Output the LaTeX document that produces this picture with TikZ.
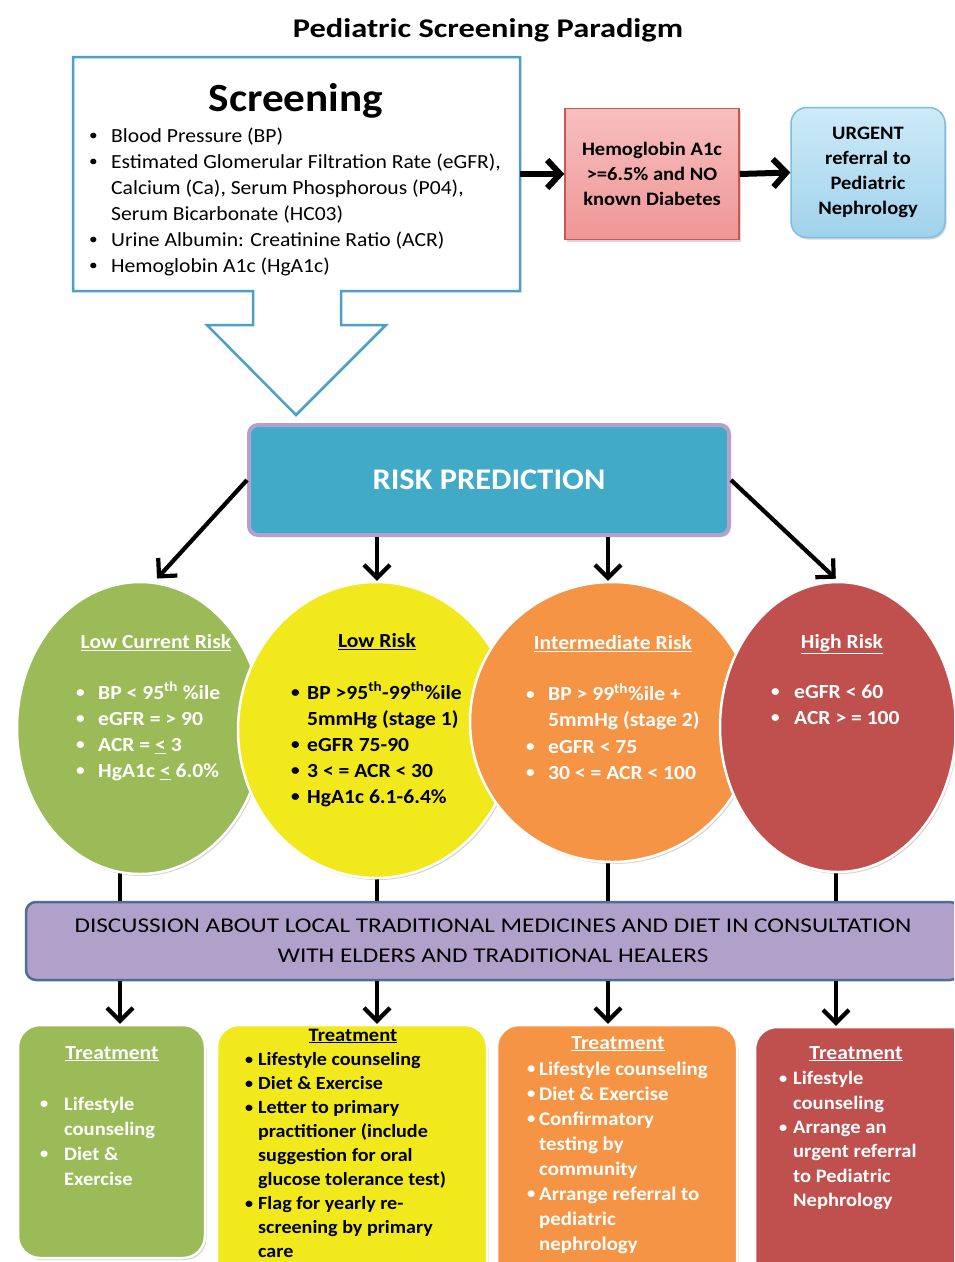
\documentclass[tikz,border=0pt]{standalone}
\usepackage{fontspec}
\usepackage{graphicx}
\setmainfont{Carlito}[FakeStretch=1.08]
\newfontfamily\wideA{Carlito}[FakeStretch=1.2]
\usetikzlibrary{arrows.meta,shadows,shapes.geometric,calc}

\definecolor{scrB}{RGB}{74,160,198}
\definecolor{hbTop}{RGB}{248,190,190}
\definecolor{hbBot}{RGB}{238,150,150}
\definecolor{hbB}{RGB}{205,85,80}
\definecolor{ubTop}{RGB}{205,234,247}
\definecolor{ubBot}{RGB}{160,210,236}
\definecolor{ubB}{RGB}{125,190,222}
\definecolor{riskF}{RGB}{65,170,198}
\definecolor{riskB}{RGB}{180,160,205}
\definecolor{cGreen}{RGB}{155,187,89}
\definecolor{cYellow}{RGB}{241,233,28}
\definecolor{cOrange}{RGB}{245,148,68}
\definecolor{cRed}{RGB}{192,80,77}
\definecolor{barF}{RGB}{177,160,201}
\definecolor{barB}{RGB}{80,108,150}

\newcommand\fs[2]{\fontsize{#1}{#2}\selectfont}
\newcommand\bul[1]{\makebox[#1][l]{\raisebox{0.08em}{\scalebox{0.8}{\textbullet}}}}
\newcommand\ind[1]{\hspace*{#1}}

\begin{document}
\begin{tikzpicture}[x=1pt,y=-1pt,
  lst/.style={inner sep=0pt, anchor=north west, align=left},
  hd/.style={inner sep=0pt, anchor=base, font=\fs{20}{24}\bfseries},
  arr/.style={line width=4.2pt, -{Straight Barb[length=13pt,width=26pt]}},
  bigarr/.style={line width=6pt, -{Straight Barb[length=13pt,width=28pt]}},
  vline/.style={line width=4.2pt},
  bubble/.style={ellipse, draw=white, line width=2.5pt, inner sep=0pt,
    drop shadow={opacity=0.35, shadow xshift=1.5pt, shadow yshift=-2pt}},
  tbox/.style={rectangle, rounded corners=22pt, draw=white, line width=2.5pt, inner sep=0pt,
    drop shadow={opacity=0.35, shadow xshift=1.5pt, shadow yshift=-2pt}},
]
\useasboundingbox (0,0) rectangle (954,1262);
\clip (0,0) rectangle (954,1262);
\fill[white] (0,0) rectangle (954,1262);

% Title
\node[inner sep=0pt, font=\wideA\fs{27}{30}\bfseries] (title) at (488,30) {Pediatric Screening Paradigm};

% Screening box with block arrow
\draw[scrB, line width=2.5pt, fill=white, line join=miter]
  (73,57) -- (520,57) -- (520,291) -- (341,291) -- (341,325) -- (386,325)
  -- (296,415) -- (207,325) -- (253,325) -- (253,291) -- (73,291) -- cycle;
\node[minimum width=447pt, minimum height=234pt, inner sep=0pt] (scr) at (296.5,174) {};
\node[inner sep=0pt, anchor=base, font=\fs{40}{42}\bfseries] (scrT) at (296,111) {Screening};
\node[lst, font=\fs{20}{26}] (scrL) at (89,124) {\strut\bul{22pt}Blood Pressure (BP)\\
 \bul{22pt}Estimated Glomerular Filtration Rate (eGFR),\\
 \ind{22pt}Calcium (Ca), Serum Phosphorous (P04),\\
 \ind{22pt}Serum Bicarbonate (HC03)\\
 \bul{22pt}Urine Albumin: Creatinine Ratio (ACR)\\
 \bul{22pt}Hemoglobin A1c (HgA1c)};

% HbA1c box and urgent box
\node[rectangle, minimum width=174pt, minimum height=131pt, inner sep=0pt,
  top color=hbTop, bottom color=hbBot, draw=hbB, line width=1.5pt,
  drop shadow={opacity=0.3, shadow xshift=1.5pt, shadow yshift=-2pt},
  align=center, font=\fs{19}{25}\bfseries] (hb) at (652,174)
  {Hemoglobin A1c\\ >=6.5\% and NO\\ known Diabetes};
\node[rectangle, rounded corners=16pt, minimum width=154pt, minimum height=130pt, inner sep=0pt,
  top color=ubTop, bottom color=ubBot, draw=ubB, line width=1.5pt,
  drop shadow={opacity=0.3, shadow xshift=1.5pt, shadow yshift=-2pt},
  align=center, font=\fs{19}{25}\bfseries] (ub) at (868,172.5)
  {URGENT\\ referral to\\ Pediatric\\ Nephrology};

\draw[bigarr] (scr.east) -- (hb.west);
\draw[bigarr] (hb.east) -- (ub.west);

% Risk prediction
\node[rectangle, rounded corners=9pt, minimum width=480pt, minimum height=110pt, inner sep=0pt,
  fill=riskF, draw=riskB, line width=4pt,
  drop shadow={opacity=0.3, shadow xshift=1.5pt, shadow yshift=-2pt},
  text=white, font=\fs{30}{32}\bfseries] (rp) at (489,480) {RISK PREDICTION};

% column x positions
\coordinate (x1) at (120,0);
\coordinate (x2) at (377,0);
\coordinate (x3) at (608,0);
\coordinate (x4) at (836,0);

% discussion bar
\node[rectangle, rounded corners=10pt, minimum width=934pt, minimum height=78pt, inner sep=0pt,
  fill=barF, draw=barB, line width=2.5pt, align=center, font=\wideA\fs{21}{30}] (bar) at (493,941)
  {DISCUSSION ABOUT LOCAL TRADITIONAL MEDICINES AND DIET IN CONSULTATION\\ WITH ELDERS AND TRADITIONAL HEALERS};

% lines from circles to bar (behind circles)
\coordinate (gCc) at (140,728);
\coordinate (yCc) at (376,730);
\coordinate (oCc) at (612,722);
\coordinate (rCc) at (838,727);
\draw[vline] (x1 |- gCc) -- (x1 |- bar.north);
\draw[vline] (x2 |- yCc) -- (x2 |- bar.north);
\draw[vline] (x3 |- oCc) -- (x3 |- bar.north);
\draw[vline] (x4 |- rCc) -- (x4 |- bar.north);

% circles
\node[bubble, fill=cGreen, minimum width=246pt, minimum height=292pt] (gC) at (gCc) {};
\node[bubble, fill=cYellow, minimum width=276pt, minimum height=296pt] (yC) at (yCc) {};
\node[bubble, fill=cOrange, minimum width=284pt, minimum height=280pt] (oC) at (oCc) {};
\node[bubble, fill=cRed, minimum width=236pt, minimum height=290pt] (rC) at (rCc) {};

% arrows from risk prediction
\draw[arr, shorten >=3pt] (rp.west) -- ($(gC.north)+(15,0)$);
\draw[arr] (rp.south -| x2) -- (x2 |- yC.north);
\draw[arr] (rp.south -| x3) -- (x3 |- oC.north);
\draw[arr, shorten >=3pt] (rp.east) -- (rC.north);

% circle texts
\node[hd, text=white] (gT) at (156,648.5) {\underline{Low Current Risk}};
\node[lst, text=white, font=\fs{20}{26}\bfseries] (gL) at (76,681) {\strut\bul{22pt}BP < 95\textsuperscript{th} \%ile\\
 \bul{22pt}eGFR = > 90\\
 \bul{22pt}ACR = \underline{<} 3\\
 \bul{22pt}HgA1c \underline{<} 6.0\%};

\node[hd] (yT) at (377,647.5) {\underline{Low Risk}};
\node[lst, font=\fs{20}{26}\bfseries] (yL) at (291,681) {\strut\bul{16pt}BP >95\textsuperscript{th}-99\textsuperscript{th}\%ile\\
 \ind{16pt}5mmHg (stage 1)\\
 \bul{16pt}eGFR 75-90\\
 \bul{16pt}3 < = ACR < 30\\
 \bul{16pt}HgA1c 6.1-6.4\%};

\node[hd, text=white] (oT) at (613,649.5) {\underline{Intermediate Risk}};
\node[lst, text=white, font=\fs{20}{26.3}\bfseries] (oL) at (526,682) {\strut\bul{22pt}BP > 99\textsuperscript{th}\%ile +\\
 \ind{22pt}5mmHg (stage 2)\\
 \bul{22pt}eGFR < 75\\
 \bul{22pt}30 < = ACR < 100};

\node[hd, text=white] (rT) at (842,648) {\underline{High Risk}};
\node[lst, text=white, font=\fs{20}{26}\bfseries] (rL) at (771,680) {\strut\bul{23pt}eGFR < 60\\
 \bul{23pt}ACR > = 100};

% treatment boxes
\node[tbox, fill=cGreen, minimum width=187pt, minimum height=233pt] (tG) at (111.5,1141.5) {};
\node[tbox, fill=cYellow, minimum width=270pt, minimum height=260pt] (tY) at (352,1155) {};
\node[tbox, fill=cOrange, minimum width=240pt, minimum height=260pt] (tO) at (617,1155) {};
\node[tbox, fill=cRed, minimum width=222pt, minimum height=258pt] (tR) at (866,1156) {};

\draw[arr] (bar.south -| x1) -- (x1 |- tG.north);
\draw[arr] (bar.south -| x2) -- (x2 |- tY.north);
\draw[arr] (bar.south -| x3) -- (x3 |- tO.north);
\draw[arr] (bar.south -| x4) -- (x4 |- tR.north);

% treatment texts
\node[hd, text=white] (tGT) at (112,1059) {\underline{Treatment}};
\node[lst, text=white, font=\fs{19}{25}\bfseries] (tGL) at (40,1092.5) {\strut\bul{24pt}Lifestyle\\
 \ind{24pt}counseling\\
 \bul{24pt}Diet \&\\
 \ind{24pt}Exercise};

\node[hd, font=\fs{19}{24}\bfseries] (tYT) at (353,1041) {\underline{Treatment}};
\node[lst, font=\fs{18.6}{24}\bfseries] (tYL) at (245,1048.5) {\strut\bul{13pt}Lifestyle counseling\\
 \bul{13pt}Diet \& Exercise\\
 \bul{13pt}Letter to primary\\
 \ind{13pt}practitioner (include\\
 \ind{13pt}suggestion for oral\\
 \ind{13pt}glucose tolerance test)\\
 \bul{13pt}Flag for yearly re-\\
 \ind{13pt}screening by primary\\
 \ind{13pt}care};

\node[hd, text=white] (tOT) at (618,1049) {\underline{Treatment}};
\node[lst, text=white, font=\fs{19.3}{25}\bfseries] (tOL) at (527,1057.5) {\strut\bul{12pt}Lifestyle counseling\\
 \bul{12pt}Diet \& Exercise\\
 \bul{12pt}Confirmatory\\
 \ind{12pt}testing by\\
 \ind{12pt}community\\
 \bul{12pt}Arrange referral to\\
 \ind{12pt}pediatric\\
 \ind{12pt}nephrology};

\node[hd, text=white] (tRT) at (856,1059) {\underline{Treatment}};
\node[lst, text=white, font=\fs{19}{24.4}\bfseries] (tRL) at (779,1067.5) {\strut\bul{14pt}Lifestyle\\
 \ind{14pt}counseling\\
 \bul{14pt}Arrange an\\
 \ind{14pt}urgent referral\\
 \ind{14pt}to Pediatric\\
 \ind{14pt}Nephrology};
\end{tikzpicture}
\end{document}
